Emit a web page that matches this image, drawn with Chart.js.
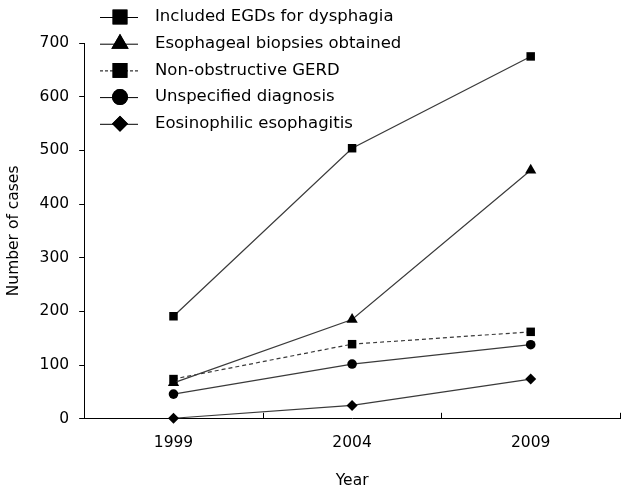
<!DOCTYPE html>
<html>
<head>
<meta charset="utf-8">
<script src="https://cdn.jsdelivr.net/npm/chart.js@4.4.1/dist/chart.umd.min.js"></script>
<style>
  html, body { margin: 0; padding: 0; background: #fff; }
  #wrap { width: 630px; height: 494px; }
</style>
</head>
<body>
<div id="wrap"><canvas id="chart"></canvas></div>
<script>
const years = ['1999', '2004', '2009'];
const includedEGDs = [191, 504, 675];
const biopsies = [67, 185, 463];
const gerd = [74, 139, 162];
const unspecified = [46, 102, 138];
const eoe = [1, 25, 74];
const yTicks = [0, 100, 200, 300, 400, 500, 600, 700];

const FONT = 'DejaVu Sans';

function series(label, data, style, radius, legendRadius, dash) {
    return {
        label: label,
        data: data,
        borderColor: '#3a3a3a',
        borderWidth: 1.2,
        borderDash: dash || [],
        pointStyle: style,
        pointRadius: radius,
        pointHoverRadius: radius,
        pointBackgroundColor: '#000',
        pointBorderColor: '#000',
        pointBorderWidth: 0,
        legendRadius: legendRadius,
        clip: false,
        tension: 0
    };
}

// legend drawn inside the plot, top left
const innerLegend = {
    id: 'innerLegend',
    afterDraw(chart) {
        const ctx = chart.ctx;
        const x0 = 100, x1 = 138, tx = 155, y0 = 17, dy = 26.7;
        ctx.save();
        chart.data.datasets.forEach((ds, i) => {
            const y = y0 + i * dy;
            ctx.strokeStyle = '#000';
            ctx.lineWidth = 1;
            ctx.setLineDash(ds.borderDash.length ? [3, 2] : []);
            ctx.beginPath();
            ctx.moveTo(x0, y + 0.5);
            ctx.lineTo(x1, y + 0.5);
            ctx.stroke();
            ctx.setLineDash([]);
            ctx.fillStyle = '#000';
            Chart.helpers.drawPoint(ctx, {
                pointStyle: ds.pointStyle,
                radius: ds.legendRadius,
                borderWidth: 0,
                rotation: 0
            }, (x0 + x1) / 2 + 1, y);
            ctx.fill();
            ctx.font = '16.5px "' + FONT + '"';
            ctx.textBaseline = 'middle';
            ctx.textAlign = 'left';
            ctx.fillText(ds.label, tx, y);
        });
        ctx.restore();
    }
};

// short inward ticks on the x axis, between categories
const xInnerTicks = {
    id: 'xInnerTicks',
    afterDraw(chart) {
        const sx = chart.scales.x;
        const ctx = chart.ctx;
        ctx.save();
        ctx.strokeStyle = '#000';
        ctx.lineWidth = 1;
        for (let i = 1; i <= years.length; i++) {
            const px = Math.round(sx.getPixelForValue(i - 0.5)) + 0.5;
            ctx.beginPath();
            ctx.moveTo(px, sx.top);
            ctx.lineTo(px, sx.top - 6);
            ctx.stroke();
        }
        ctx.restore();
    }
};

new Chart(document.getElementById('chart'), {
    type: 'line',
    plugins: [innerLegend, xInnerTicks],
    data: {
        labels: years,
        datasets: [
            series('Included EGDs for dysphagia', includedEGDs, 'rect', 6, 10.5),
            series('Esophageal biopsies obtained', biopsies, 'triangle', 6.5, 10),
            series('Non-obstructive GERD', gerd, 'rect', 6, 10.5, [4, 3]),
            series('Unspecified diagnosis', unspecified, 'circle', 4.8, 8),
            series('Eosinophilic esophagitis', eoe, 'rectRot', 5.5, 8)
        ]
    },
    options: {
        responsive: true,
        maintainAspectRatio: false,
        animation: false,
        events: [],
        layout: {
            padding: { top: 43, right: 10, bottom: 4, left: 5 }
        },
        plugins: {
            legend: { display: false },
            tooltip: { enabled: false }
        },
        scales: {
            x: {
                type: 'category',
                offset: true,
                grid: {
                    display: true,
                    offset: true,
                    drawOnChartArea: false,
                    drawTicks: false,
                    color: '#000'
                },
                border: { color: '#000', width: 1 },
                ticks: {
                    color: '#000',
                    padding: 15,
                    font: { family: FONT, size: 15.5 }
                },
                title: {
                    display: true,
                    text: 'Year',
                    color: '#000',
                    padding: { top: 4, bottom: 0 },
                    font: { family: FONT, size: 15.5 }
                }
            },
            y: {
                min: 0,
                max: 700,
                afterBuildTicks(scale) {
                    scale.ticks = yTicks.map(v => ({ value: v }));
                },
                grid: {
                    drawOnChartArea: false,
                    drawTicks: true,
                    tickLength: 5,
                    color: '#000'
                },
                border: { color: '#000', width: 1 },
                ticks: {
                    color: '#000',
                    padding: 10,
                    font: { family: FONT, size: 15.5 }
                },
                title: {
                    display: true,
                    text: 'Number of cases',
                    color: '#000',
                    padding: { top: 0, bottom: 6 },
                    font: { family: FONT, size: 15.5 }
                }
            }
        }
    }
});
</script>
</body>
</html>
